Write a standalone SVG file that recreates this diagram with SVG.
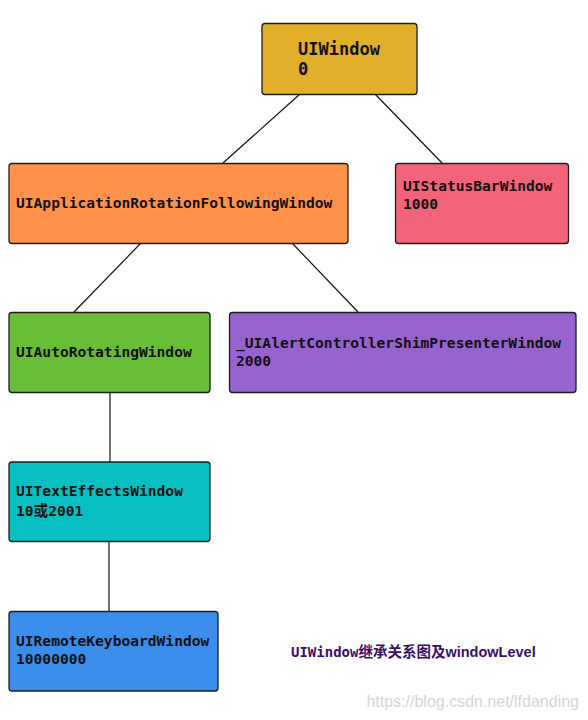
<svg xmlns="http://www.w3.org/2000/svg" width="588" height="720" viewBox="0 0 588 720">
<style>
.box{stroke:#1e1e1e;stroke-width:1.3}
.t{font-family:"DejaVu Sans Mono","Liberation Mono","Noto Sans CJK SC",monospace;font-weight:bold;font-size:14.6px;fill:#111}
.big{font-size:17px}
.conn line{stroke:#111;stroke-width:1.2}
</style>
<rect width="588" height="720" fill="#fff"/>
<g id="connectors" class="conn">
<line x1="300" y1="94" x2="223" y2="163"/>
<line x1="375" y1="94" x2="442" y2="163"/>
<line x1="141" y1="243" x2="74" y2="312"/>
<line x1="292" y1="243" x2="358" y2="312"/>
<line x1="110" y1="392" x2="110" y2="462"/>
<line x1="109" y1="541" x2="109" y2="611"/>
</g>
<g id="uiwindow">
<rect class="box" x="262" y="23.5" width="155" height="71" rx="3" fill="#E2AF2A"/>
<text class="t big" x="298" y="55">UIWindow</text>
<text class="t big" x="298" y="75">0</text>
</g>
<g id="uiapplicationrotationfollowingwindow">
<rect class="box" x="9" y="163.5" width="339" height="80" rx="3" fill="#FF914B"/>
<text class="t" x="16" y="208">UIApplicationRotationFollowingWindow</text>
</g>
<g id="uistatusbarwindow">
<rect class="box" x="395.5" y="163.5" width="173" height="80" rx="3" fill="#F3637A"/>
<text class="t" x="403" y="191">UIStatusBarWindow</text>
<text class="t" x="403" y="209">1000</text>
</g>
<g id="uiautorotatingwindow">
<rect class="box" x="9" y="312.5" width="201" height="80" rx="3" fill="#6ABD36"/>
<text class="t" x="16" y="357">UIAutoRotatingWindow</text>
</g>
<g id="uialertcontrollershimpresenterwindow">
<rect class="box" x="229.5" y="312.5" width="346.5" height="80" rx="3" fill="#9863CF"/>
<text class="t" x="236" y="348">_UIAlertControllerShimPresenterWindow</text>
<text class="t" x="236" y="366">2000</text>
</g>
<g id="uitexteffectswindow">
<rect class="box" x="9" y="462" width="201" height="79.5" rx="3" fill="#06BFC0"/>
<text class="t" x="16" y="496">UITextEffectsWindow</text>
<text class="t" x="16" y="516">10或2001</text>
</g>
<g id="uiremotekeyboardwindow">
<rect class="box" x="9" y="611.5" width="209" height="79.5" rx="3" fill="#3B8DEB"/>
<text class="t" x="16" y="646">UIRemoteKeyboardWindow</text>
<text class="t" x="16" y="664">10000000</text>
</g>
<g id="caption">
<text x="291" y="657" font-size="14.5" font-weight="bold" fill="#3A0F6A" font-family="'Liberation Sans','Noto Sans CJK SC',sans-serif"><tspan font-family="'DejaVu Sans Mono','Noto Sans CJK SC',monospace" font-size="14">UIWindow</tspan>继承关系图及windowLevel</text>
</g>
<text x="579" y="707" text-anchor="end" font-size="16" fill="#d4d4d4" font-family="'Liberation Sans',sans-serif">https://blog.csdn.net/lfdanding</text>
</svg>
